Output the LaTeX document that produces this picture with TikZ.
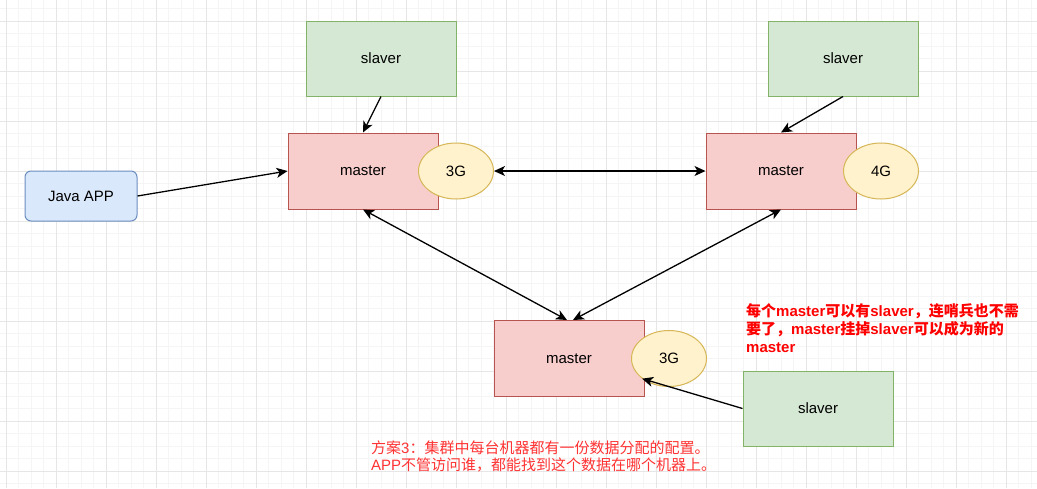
\documentclass[tikz,border=0pt]{standalone}
\usepackage{fontspec}
\setmainfont{Liberation Sans}
\newfontfamily\cjk{Noto Sans CJK SC}
\usetikzlibrary{shapes.geometric,arrows.meta}
\definecolor{gfill}{HTML}{D5E8D4}\definecolor{gline}{HTML}{82B366}
\definecolor{rfill}{HTML}{F8CECC}\definecolor{rline}{HTML}{B85450}
\definecolor{yfill}{HTML}{FFF2CC}\definecolor{yline}{HTML}{D6B656}
\definecolor{bfill}{HTML}{DAE8FC}\definecolor{bline}{HTML}{6C8EBF}
\definecolor{gridminor}{HTML}{F5F5F5}\definecolor{gridmajor}{HTML}{E6E6E6}
\definecolor{txtred}{HTML}{FF0000}\definecolor{txtred2}{HTML}{FF3333}
\begin{document}
\begin{tikzpicture}[x=1pt,y=-1pt,
  lbl/.style={font=\fontsize{15}{18}\selectfont},
  slavebox/.style={lbl,draw=gline,fill=gfill,line width=1pt,minimum width=150pt,minimum height=75pt,inner sep=0pt},
  masterbox/.style={lbl,draw=rline,fill=rfill,line width=1pt,minimum width=150pt,minimum height=76pt,inner sep=0pt},
  memell/.style={lbl,ellipse,draw=yline,fill=yfill,line width=1pt,minimum width=75pt,minimum height=56pt,inner sep=0pt},
  appbox/.style={lbl,draw=bline,fill=bfill,line width=1pt,rounded corners=6pt,minimum width=112pt,minimum height=50pt,inner sep=0pt},
  mytip/.tip={Stealth[length=11pt,width=10pt,inset=3pt]},
  conn/.style={line width=1.3pt,-mytip},
  biconn/.style={line width=1.3pt,mytip-mytip}
]
\useasboundingbox (0,0) rectangle (1037,488);
\fill[white] (0,0) rectangle (1037,488);
% grid
\foreach \i in {0,...,83} {\draw[gridminor,line width=0.8pt] ({6+12.5*\i},0) -- ({6+12.5*\i},488);}
\foreach \i in {0,...,39} {\draw[gridminor,line width=0.8pt] (0,{8.5+12.5*\i}) -- (1037,{8.5+12.5*\i});}
\foreach \i in {0,...,20} {\draw[gridmajor,line width=0.8pt] ({6+50*\i},0) -- ({6+50*\i},488);}
\foreach \i in {0,...,9} {\draw[gridmajor,line width=0.8pt] (0,{21+50*\i}) -- (1037,{21+50*\i});}

\node[slavebox] (s1) at (381,58.5) {slaver};
\node[slavebox] (s2) at (843,58.5) {slaver};
\node[slavebox] (s3) at (818,408.5) {slaver};
\node[masterbox] (m1) at (363,171) {master};
\node[masterbox] (m2) at (781,171) {master};
\node[masterbox] (m3) at (569,358.5) {master};
\node[memell] (e1) at (456,171) {3G};
\node[memell] (e2) at (881,171) {4G};
\node[memell] (e3) at (669,358.5) {3G};
\node[appbox] (java) at (81,196) {Java APP};

\draw[conn] (java.east) -- (m1.west);
\draw[conn] (s1.south) -- (m1.north);
\draw[conn] (s2.south) -- (m2.north);
\draw[biconn] (e1.east) -- (m2.west);
\draw[biconn] (m1.south) -- ([xshift=-2pt]m3.north);
\draw[biconn] (m2.south) -- ([xshift=4pt]m3.north);
\draw[conn] (s3.west) -- (e3.south west);

\node[anchor=north west,align=left,inner sep=0pt,text=txtred,font=\fontsize{15}{18}\selectfont\bfseries] (note) at (746,303)
  {{\cjk 每个}master{\cjk 可以有}slaver{\cjk ，连哨兵也不需}\\
   {\cjk 要了，}master{\cjk 挂掉}slaver{\cjk 可以成为新的}\\
   master};
\node[anchor=north west,align=left,inner sep=0pt,text=txtred2,font=\fontsize{15}{17}\selectfont] (plan) at (371,441)
  {{\cjk 方案}3{\cjk ：集群中每台机器都有一份数据分配的配置。}\\
   APP{\cjk 不管访问谁，都能找到这个数据在哪个机器上。}};
\end{tikzpicture}
\end{document}
